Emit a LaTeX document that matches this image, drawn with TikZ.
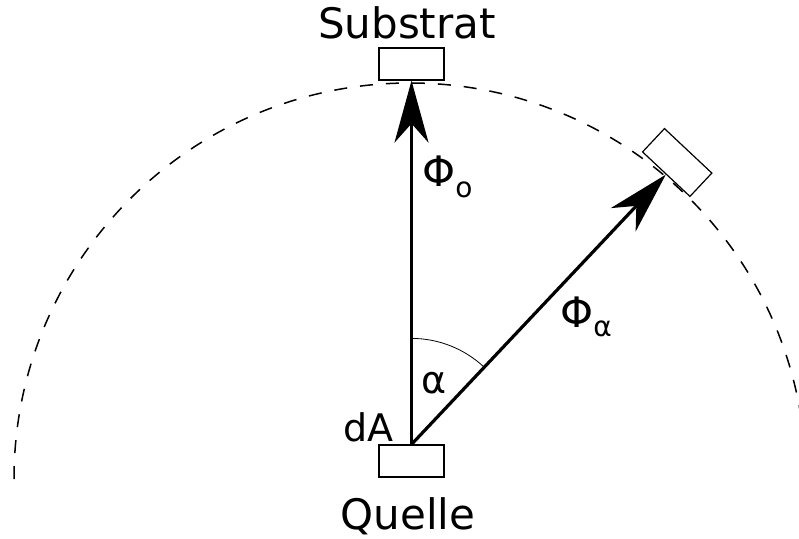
\documentclass[tikz,border=0pt]{standalone}
\usepackage{fontspec}
\setmainfont{DejaVu Sans}
\usetikzlibrary{arrows.meta}
\begin{document}
\begin{tikzpicture}[x=1pt,y=1pt,
  box/.style={draw, line width=1.2pt, minimum width=65pt, minimum height=32pt, inner sep=0pt},
  arr/.style={line width=3.2pt, -{Stealth[length=62pt,width=34pt,inset=19pt]}},
  lbl/.style={font=\fontsize{42}{50}\selectfont, inner sep=0pt},
  sublbl/.style={font=\fontsize{38}{46}\selectfont, inner sep=0pt}]
\useasboundingbox (0,0) rectangle (799,538);
\draw[dash pattern=on 13pt off 13pt, line width=1.5pt] (410,59) ++(180:396) arc[start angle=180, end angle=10, radius=396];
\node[box] (quelle) at (411.5,77) {};
\node[box] (sub1) at (411.5,474) {};
\node[box, rotate=-43.2] (sub2) at (677.2,375.5) {};
\coordinate (src) at (quelle.north);
\draw[arr] (src) -- (sub1.south);
\draw[arr] (src) -- (sub2.south);
\draw[line width=0.8pt] (src) ++(90:106) arc[start angle=90, end angle=46.8, radius=106];
\node[lbl, anchor=base] (tsub) at (407,499) {Substrat};
\node[lbl, anchor=base] (tquelle) at (408,9) {Quelle};
\node[lbl, anchor=base west] (phio) at (422,351) {Φ\raisebox{-11pt}{\fontsize{28}{30}\selectfont o}};
\node[lbl, anchor=base west] (phia) at (560,210) {Φ\raisebox{-9pt}{\fontsize{28}{30}\selectfont α}};
\node[sublbl, anchor=base west] (alpha) at (421,145) {α};
\node[sublbl, anchor=base east] (dA) at (394,97) {dA};
\end{tikzpicture}
\end{document}
